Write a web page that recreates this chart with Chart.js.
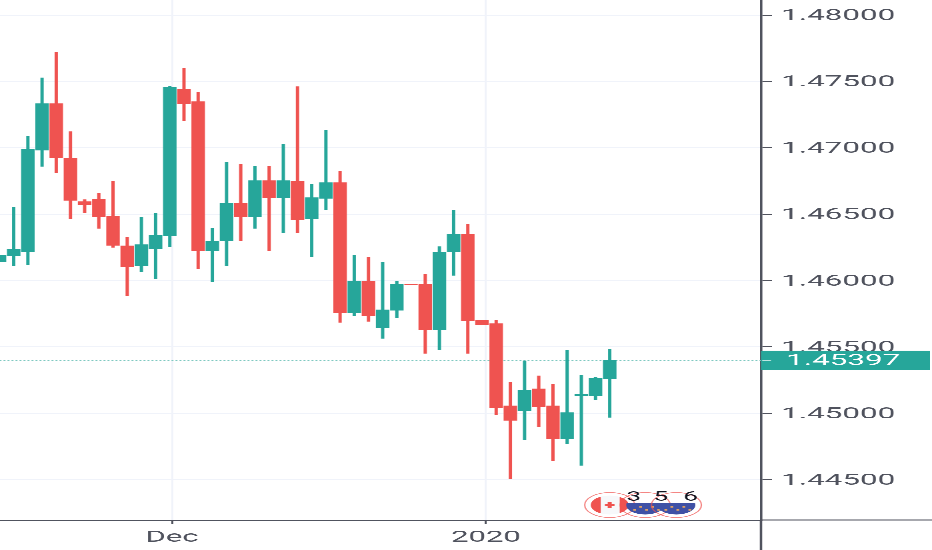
<!DOCTYPE html>
<html>

<head>
  <title>CAD/EUR daily candles</title>
  <style>
    html, body { margin: 0; padding: 0; background: #ffffff; overflow: hidden; }
    /* the reference is squeezed sideways, so the whole chart is stretched 2x */
    #wrap { width: 466px; height: 550px; transform: scaleX(2); transform-origin: 0 0; }
  </style>
  <script src="https://cdn.jsdelivr.net/npm/chart.js"></script>
</head>

<body>
  <div id="wrap"><canvas id="myChart" width="466" height="550"></canvas></div>

  <script>
    var opens = [1.46145, 1.46185, 1.46218, 1.46983, 1.47332, 1.46921, 1.46594, 1.46614, 1.46486, 1.46261, 1.46112,
      1.46240, 1.46338, 1.47443, 1.47347, 1.46225, 1.46298, 1.46584, 1.46484, 1.46752, 1.46627, 1.46745, 1.46466,
      1.46620, 1.46737, 1.45758, 1.45997, 1.45645, 1.45777, 1.45972, 1.45972, 1.45630, 1.46215, 1.46351, 1.45701,
      1.45675, 1.45056, 1.45020, 1.45184, 1.45056, 1.44810, 1.45133, 1.45136, 1.45259];
    var highs = [1.46188, 1.46552, 1.47084, 1.47526, 1.47719, 1.47121, 1.46609, 1.46657, 1.46745, 1.46326, 1.46479,
      1.46504, 1.47463, 1.47599, 1.47420, 1.46391, 1.46891, 1.46876, 1.46858, 1.46858, 1.47026, 1.47460, 1.46727,
      1.47129, 1.46825, 1.46191, 1.46173, 1.46135, 1.45997, 1.45972, 1.46045, 1.46255, 1.46529, 1.46424, 1.45701,
      1.45701, 1.45234, 1.45395, 1.45282, 1.45216, 1.45475, 1.45289, 1.45274, 1.45483];
    var lows = [1.46145, 1.46112, 1.46120, 1.46861, 1.46813, 1.46466, 1.46514, 1.46394, 1.46251, 1.45886, 1.46065,
      1.46014, 1.46255, 1.47207, 1.46087, 1.45992, 1.46112, 1.46298, 1.46394, 1.46225, 1.46361, 1.46361, 1.46178,
      1.46532, 1.45686, 1.45736, 1.45694, 1.45566, 1.45718, 1.45967, 1.45453, 1.45477, 1.46040, 1.45453, 1.45668,
      1.44993, 1.44511, 1.44802, 1.44898, 1.44642, 1.44770, 1.44609, 1.45106, 1.44971];
    var closes = [1.46188, 1.46236, 1.46986, 1.47332, 1.46925, 1.46605, 1.46572, 1.46484, 1.46266, 1.46105, 1.46270,
      1.46341, 1.47453, 1.47335, 1.46225, 1.46293, 1.46584, 1.46484, 1.46752, 1.46627, 1.46752, 1.46459, 1.46624,
      1.46737, 1.45758, 1.45997, 1.45736, 1.45779, 1.45972, 1.45967, 1.45630, 1.46213, 1.46351, 1.45696, 1.45668,
      1.45043, 1.44948, 1.45176, 1.45051, 1.44810, 1.45005, 1.45141, 1.45264, 1.45397];

    var priceTicks = [1.48, 1.475, 1.47, 1.465, 1.46, 1.455, 1.45, 1.445];
    var dateTickSlots = [12.16, 34.28];
    var dateTickLabels = ["Dec", "2020"];
    var lastPrice = 1.45397;

    // economic calendar bubbles under the candles
    var eventSlots = [43.0, 45.5, 47.7];
    var eventCounts = ["3", "5", "6"];
    var eventCountSlots = [44.7, 46.6, 48.7];

    var UP = "#26a69a";
    var DOWN = "#ef5350";
    var AXIS = "#50535e";
    var GRID = "#f0f3fa";

    var slots = opens.map(function (o, i) { return i; });
    var colors = slots.map(function (i) { return closes[i] >= opens[i] ? UP : DOWN; });

    function eventFlag(ctx, x, y, isCanada) {
      ctx.save();
      ctx.beginPath();
      ctx.arc(x, y, 12.5, 0, Math.PI * 2);
      ctx.strokeStyle = "rgba(239,83,80,0.7)";
      ctx.lineWidth = 0.7;
      ctx.stroke();
      ctx.beginPath();
      ctx.arc(x, y, 9.5, 0, Math.PI * 2);
      ctx.clip();
      if (isCanada) {
        ctx.fillStyle = "#f7f8fa";
        ctx.fillRect(x - 10, y - 10, 20, 20);
        ctx.fillStyle = DOWN;
        ctx.fillRect(x - 10, y - 10, 5.5, 20);
        ctx.fillRect(x + 5, y - 10, 5, 20);
        ctx.fillRect(x - 2.4, y - 1.2, 4.8, 2.4);
        ctx.fillRect(x - 1, y - 3, 2, 6);
      } else {
        ctx.fillStyle = "#3f51a5";
        ctx.fillRect(x - 10, y - 2, 20, 12);
        ctx.fillStyle = "#e0a060";
        for (var a = 0; a < 5; a++) {
          ctx.fillRect(x - 6 + a * 3, y + (a % 2 ? 1 : 4), 1.4, 1.6);
        }
      }
      ctx.restore();
    }

    var tvExtras = {
      id: "tvExtras",
      afterDraw: function (chart) {
        var ctx = chart.ctx;
        var area = chart.chartArea;
        var xs = chart.scales.x;
        var ys = chart.scales.y;

        // axis lines carry on past the plot
        ctx.save();
        ctx.strokeStyle = AXIS;
        ctx.lineWidth = 1.2;
        ctx.beginPath();
        ctx.moveTo(area.right, area.bottom);
        ctx.lineTo(area.right, chart.height);
        ctx.stroke();
        ctx.lineWidth = 1;
        ctx.beginPath();
        ctx.moveTo(area.right, area.bottom);
        ctx.lineTo(chart.width, area.bottom);
        ctx.stroke();

        // events
        var ey = area.bottom - 15;
        eventFlag(ctx, xs.getPixelForValue(eventSlots[0]), ey, true);
        eventFlag(ctx, xs.getPixelForValue(eventSlots[1]), ey, false);
        eventFlag(ctx, xs.getPixelForValue(eventSlots[2]), ey, false);
        ctx.fillStyle = "#131722";
        ctx.font = "13px Roboto";
        ctx.textAlign = "center";
        ctx.textBaseline = "middle";
        eventCounts.forEach(function (c, i) {
          ctx.fillText(c, xs.getPixelForValue(eventCountSlots[i]), area.bottom - 22.5);
        });

        // last price tag
        var py = ys.getPixelForValue(lastPrice);
        ctx.fillStyle = UP;
        ctx.fillRect(area.right, py - 10, 84.5, 19.5);
        ctx.strokeStyle = "#bfe5e1";
        ctx.lineWidth = 1;
        ctx.beginPath();
        ctx.moveTo(area.right + 0.6, py);
        ctx.lineTo(area.right + 5, py);
        ctx.stroke();
        ctx.fillStyle = "#ffffff";
        ctx.font = "15.7px Roboto";
        ctx.textAlign = "left";
        ctx.fillText(lastPrice.toFixed(5), area.right + 12.6, py + 0.5);
        ctx.restore();
      }
    };

    var ctx = document.getElementById("myChart").getContext("2d");
    var myChart = new Chart(ctx, {
      type: "bar",
      data: {
        datasets: [
          {
            type: "line",
            data: [{ x: 0, y: lastPrice }, { x: 60, y: lastPrice }],
            borderColor: "#7fc9c1",
            borderWidth: 0.8,
            borderDash: [1, 1],
            pointRadius: 0,
            order: 3
          },
          {
            data: slots.map(function (i) { return { x: i, y: [lows[i], highs[i]] }; }),
            backgroundColor: colors,
            barThickness: 1,
            grouped: false,
            order: 2
          },
          {
            data: slots.map(function (i) { return { x: i, y: [opens[i], closes[i]] }; }),
            backgroundColor: colors,
            barThickness: 6.1,
            minBarLength: 1,
            grouped: false,
            order: 1
          }
        ]
      },
      options: {
        responsive: false,
        animation: false,
        devicePixelRatio: 3,
        layout: { padding: 0 },
        plugins: { legend: { display: false }, tooltip: { enabled: false } },
        scales: {
          x: {
            type: "linear",
            offset: false,
            min: 0.035,
            max: 53.66,
            afterFit: function (scale) {
              scale.height = 30;
              scale.paddingLeft = 0;
              scale.paddingRight = 0;
            },
            afterBuildTicks: function (scale) {
              scale.ticks = dateTickSlots.map(function (v) { return { value: v }; });
            },
            grid: { offset: false, color: GRID, lineWidth: 1, tickColor: AXIS, tickLength: 4 },
            border: { color: AXIS, width: 1 },
            ticks: {
              autoSkip: false,
              maxRotation: 0,
              color: AXIS,
              padding: 4.5,
              font: { family: "Roboto", size: 15.5 },
              callback: function (v) { return dateTickLabels[dateTickSlots.indexOf(v)]; }
            }
          },
          y: {
            position: "right",
            min: 1.44197,
            max: 1.48113,
            afterFit: function (scale) {
              scale.width = 85.5;
              scale.paddingTop = 0;
              scale.paddingBottom = 0;
            },
            afterBuildTicks: function (scale) {
              scale.ticks = priceTicks.map(function (v) { return { value: v }; });
            },
            grid: { color: GRID, lineWidth: 1, tickColor: AXIS, tickLength: 5.5 },
            border: { color: AXIS, width: 1.2 },
            ticks: {
              color: AXIS,
              padding: 4.6,
              labelOffset: 1,
              font: { family: "Roboto", size: 15.7 },
              callback: function (v) { return v.toFixed(5); }
            }
          }
        }
      },
      plugins: [tvExtras]
    });
  </script>

</body>

</html>
